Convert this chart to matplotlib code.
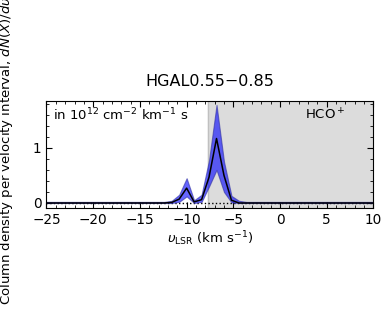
import matplotlib
matplotlib.use("Agg")
import matplotlib.pyplot as plt
from matplotlib.ticker import MultipleLocator

velocity = [-25.0, -12.4, -11.6, -10.8, -10.0, -9.2, -8.4, -7.6, -6.8, -6.0, -5.2, -4.4, -3.6, 10.0]
column_mid = [0, 0, 0.01, 0.07, 0.27, 0.02, 0.06, 0.47, 1.17, 0.50, 0.05, 0, 0, 0]
column_upper = [0.02, 0.02, 0.04, 0.15, 0.45, 0.05, 0.15, 0.78, 1.78, 0.75, 0.13, 0.04, 0.02, 0.02]
column_lower = [0, 0, 0, 0.02, 0.12, 0, 0.02, 0.30, 0.60, 0.20, 0.01, 0, 0, 0]

title = "HGAL0.55\u22120.85"
species = "HCO$^+$"
shade_start = -7.7
xlim = (-25, 10)
ylim = (-0.09, 1.85)

fig = plt.figure(figsize=(3.82, 3.09), dpi=100)
ax = fig.add_axes([0.1217, 0.327, 0.856, 0.346])

ax.axvspan(shade_start, xlim[1], color="#dcdcdc", zorder=0)
ax.axvline(shade_start, color="#c0c0c0", lw=1.0, zorder=0.5)
ax.axhline(0, color="black", ls=":", lw=1.0, zorder=1)
ax.fill_between(velocity, column_lower, column_upper, color="blue", alpha=0.6,
                edgecolor="#3030a0", lw=0.8, zorder=2)
ax.plot(velocity, column_mid, color="black", lw=1.1, zorder=3)

ax.set_xlim(*xlim)
ax.set_ylim(*ylim)
ax.xaxis.set_major_locator(MultipleLocator(5))
ax.xaxis.set_minor_locator(MultipleLocator(1))
ax.yaxis.set_major_locator(MultipleLocator(1))
ax.yaxis.set_minor_locator(MultipleLocator(0.2))
ax.tick_params(which="both", direction="in", top=True, right=True, labelsize=9.8)
ax.tick_params(which="major", length=4)
ax.tick_params(which="minor", length=2)

ax.set_title(title, fontsize=11.5, pad=11)
ax.set_xlabel(r"$\upsilon_{\rm LSR}$ (km s$^{-1}$)", fontsize=9.5, labelpad=2)
ax.text(0.02, 0.95, r"in 10$^{12}$ cm$^{-2}$ km$^{-1}$ s", transform=ax.transAxes,
        ha="left", va="top", fontsize=9.5)
ax.text(0.915, 0.94, species, transform=ax.transAxes, ha="right", va="top", fontsize=9.5)

fig.text(0.017, 0.012, r"Column density per velocity interval, $dN(X)/d\upsilon$",
         rotation=90, ha="center", va="bottom", fontsize=9.5)

fig.savefig("out.png", dpi=100)
